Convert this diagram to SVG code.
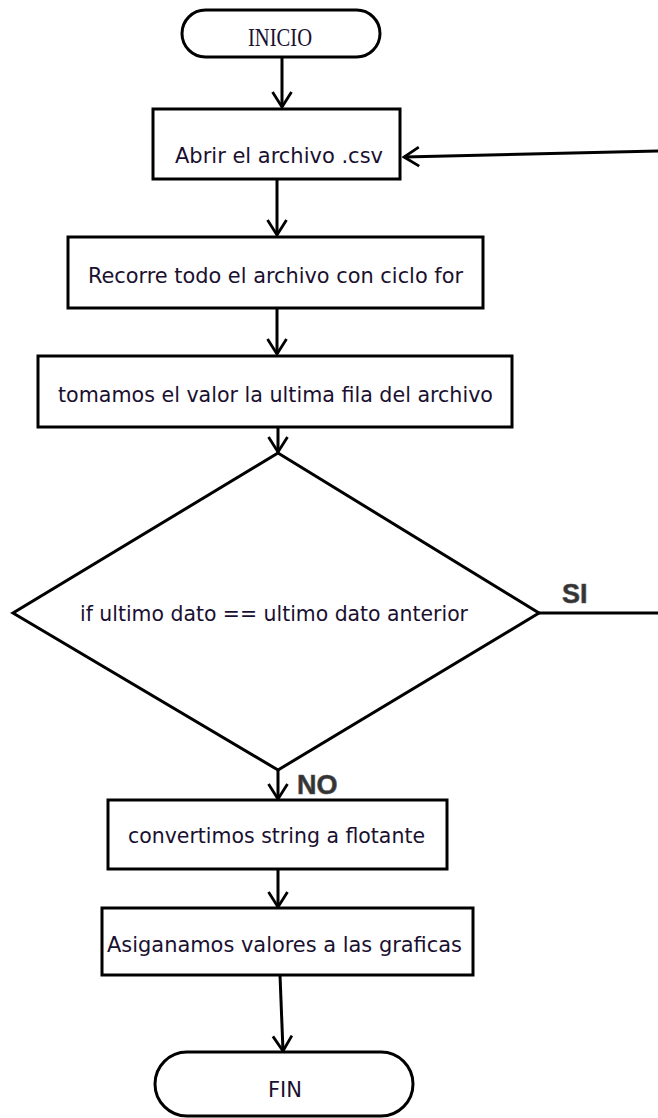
<svg xmlns="http://www.w3.org/2000/svg" width="658" height="1118" viewBox="0 0 658 1118">
<style>
.shape{fill:#fff;stroke:#000;stroke-width:3}
.lbl{font-family:"DejaVu Sans Condensed","DejaVu Sans",sans-serif;font-size:21px;fill:#1a1030}
.term{font-family:"Liberation Serif",serif;font-size:25px;fill:#1a1030}
.yn{font-family:"Liberation Sans",Arial,sans-serif;font-weight:bold;font-size:27px;fill:#333;stroke:#555;stroke-width:0.6}
.conn{fill:none;stroke:#000;stroke-width:3}
</style>
<defs>
<marker id="arr" markerUnits="userSpaceOnUse" viewBox="0 0 18 22" markerWidth="18" markerHeight="22" refX="16" refY="11" orient="auto">
<path d="M1,1.5 L16,11 L1,20.5" fill="none" stroke="#000" stroke-width="2.8"/>
</marker>
</defs>
<rect width="658" height="1118" fill="#fff"/>
<g id="connectors">
<line class="conn" x1="282" y1="57" x2="282" y2="107" marker-end="url(#arr)"/>
<line class="conn" x1="277" y1="179" x2="277" y2="235" marker-end="url(#arr)"/>
<line class="conn" x1="277" y1="308" x2="277" y2="354" marker-end="url(#arr)"/>
<line class="conn" x1="278" y1="427" x2="278" y2="452" marker-end="url(#arr)"/>
<line class="conn" x1="539" y1="613" x2="658" y2="613"/>
<line class="conn" x1="658" y1="151" x2="404" y2="157" marker-end="url(#arr)"/>
<line class="conn" x1="278" y1="770" x2="278" y2="799" marker-end="url(#arr)"/>
<line class="conn" x1="278" y1="869" x2="278" y2="907" marker-end="url(#arr)"/>
<line class="conn" x1="280" y1="975" x2="283" y2="1051" marker-end="url(#arr)"/>
</g>
<g id="inicio">
<rect class="shape" x="182" y="10" width="198" height="47" rx="23.5" ry="23.5"/>
<text class="term" x="248" y="46" textLength="64" lengthAdjust="spacingAndGlyphs">INICIO</text>
</g>
<g id="abrir">
<rect class="shape" x="153" y="109" width="247" height="70"/>
<text class="lbl" x="175" y="163" textLength="208" lengthAdjust="spacingAndGlyphs">Abrir el archivo .csv</text>
</g>
<g id="recorre">
<rect class="shape" x="68" y="237" width="415" height="71"/>
<text class="lbl" x="88" y="283" textLength="375" lengthAdjust="spacingAndGlyphs">Recorre todo el archivo con ciclo for</text>
</g>
<g id="tomamos">
<rect class="shape" x="38" y="356" width="474" height="71"/>
<text class="lbl" x="58" y="402" textLength="435" lengthAdjust="spacingAndGlyphs">tomamos el valor la ultima fila del archivo</text>
</g>
<g id="decision">
<polygon class="shape" points="278,453 539,613 278,770 13,613"/>
<text class="lbl" x="80" y="621" textLength="388" lengthAdjust="spacingAndGlyphs">if ultimo dato == ultimo dato anterior</text>
<text class="yn" x="562" y="603">SI</text>
<text class="yn" x="297" y="794">NO</text>
</g>
<g id="convertimos">
<rect class="shape" x="108" y="800" width="339" height="69"/>
<text class="lbl" x="128" y="843" textLength="297" lengthAdjust="spacingAndGlyphs">convertimos string a flotante</text>
</g>
<g id="asignamos">
<rect class="shape" x="102" y="908" width="371" height="67"/>
<text class="lbl" x="107" y="952" textLength="355" lengthAdjust="spacingAndGlyphs">Asiganamos valores a las graficas</text>
</g>
<g id="fin">
<rect class="shape" x="155" y="1052" width="258" height="64" rx="32" ry="32"/>
<text class="lbl" x="268" y="1097" textLength="34" lengthAdjust="spacingAndGlyphs">FIN</text>
</g>
</svg>
